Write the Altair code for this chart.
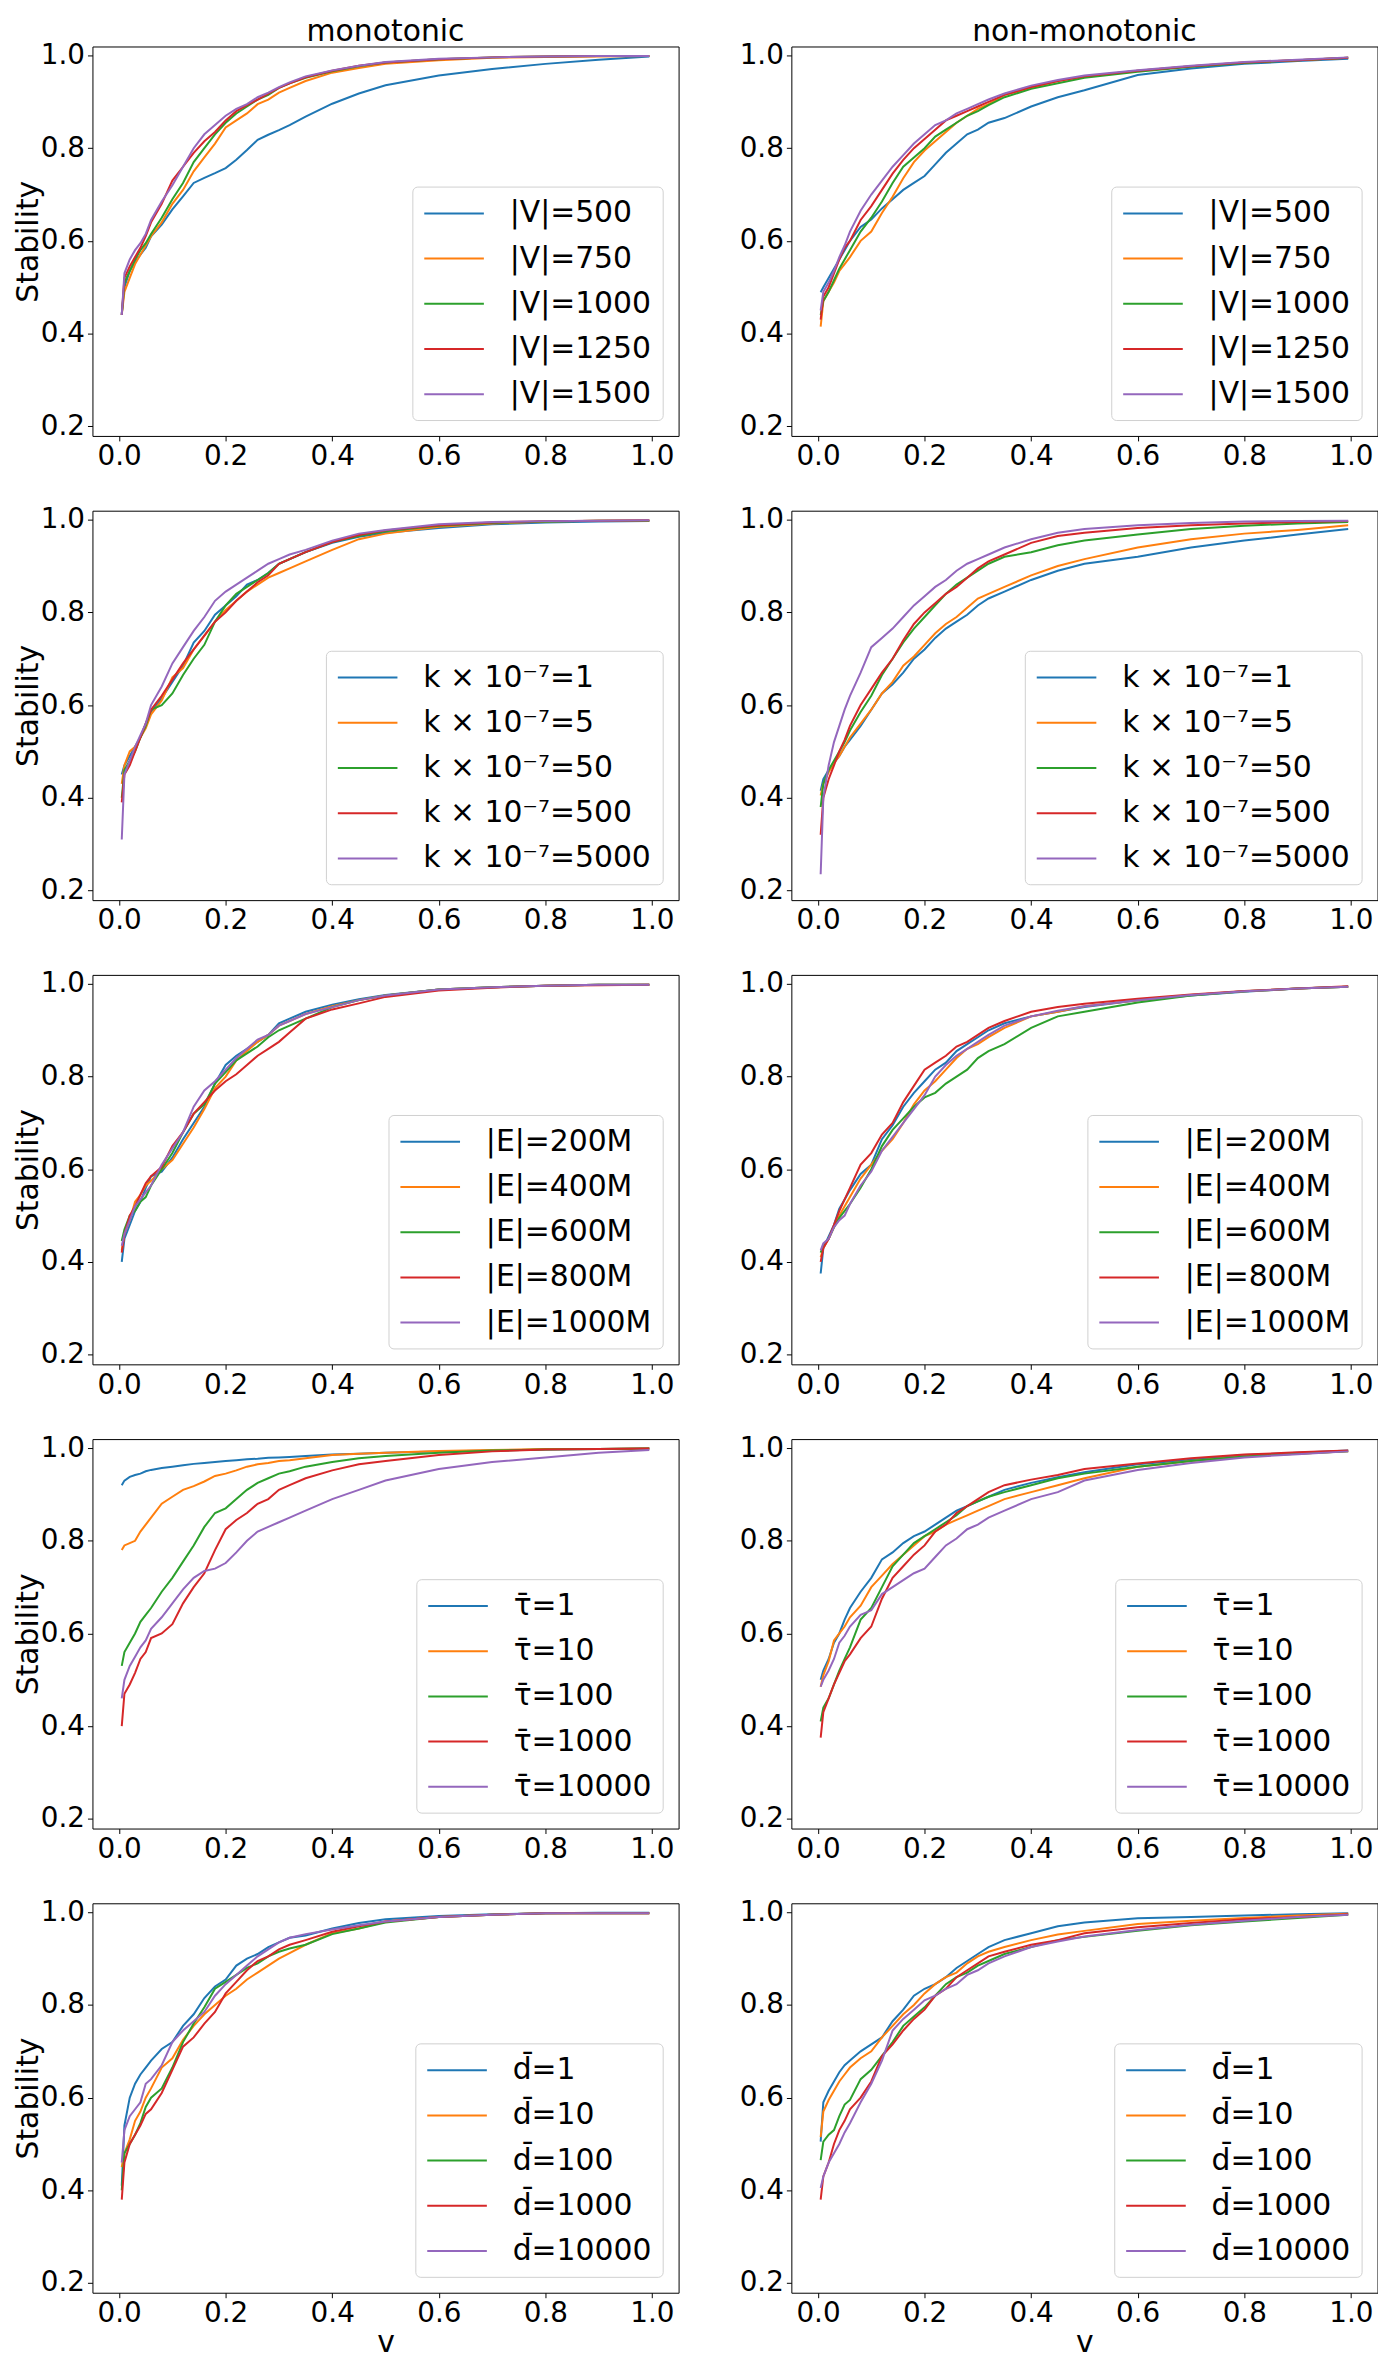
import altair as alt
import pandas as pd

# ---------------- data ----------------
X = [0.005, 0.01, 0.02, 0.03, 0.04, 0.05, 0.06, 0.08, 0.10, 0.12, 0.14, 0.16, 0.18, 0.20,
     0.22, 0.24, 0.26, 0.28, 0.30, 0.32, 0.35, 0.40, 0.45, 0.50, 0.60, 0.70, 0.80, 0.90, 0.995]

X_TICKS = [0.0, 0.2, 0.4, 0.6, 0.8, 1.0]
Y_TICKS = [0.2, 0.4, 0.6, 0.8, 1.0]
COLUMN_TITLES = ["monotonic", "non-monotonic"]
TAB10 = ["#1f77b4", "#ff7f0e", "#2ca02c", "#d62728", "#9467bd"]

V_LABELS = ["|V|=500", "|V|=750", "|V|=1000", "|V|=1250", "|V|=1500"]
K_VALUES = ["1", "5", "50", "500", "5000"]
K_LABELS = ["k \u00d7 10\u207b\u2077=" + v for v in K_VALUES]
E_LABELS = ["|E|=200M", "|E|=400M", "|E|=600M", "|E|=800M", "|E|=1000M"]
TAU_VALUES = ["1", "10", "100", "1000", "10000"]
TAU_LABELS = ["\u03c4\u0304=" + v for v in TAU_VALUES]
D_LABELS = ["d\u0304=" + v for v in TAU_VALUES]

mono_V = [
    [0.443, 0.50, 0.535, 0.555, 0.57, 0.585, 0.61, 0.635, 0.668, 0.696, 0.725, 0.736, 0.746, 0.757, 0.775, 0.796, 0.818, 0.829, 0.839, 0.85, 0.868, 0.896, 0.918, 0.936, 0.957, 0.971, 0.982, 0.991, 0.998],
    [0.44, 0.49, 0.52, 0.55, 0.57, 0.59, 0.61, 0.64, 0.68, 0.71, 0.75, 0.78, 0.81, 0.845, 0.86, 0.875, 0.895, 0.905, 0.92, 0.93, 0.945, 0.963, 0.973, 0.982, 0.99, 0.995, 0.997, 0.998, 0.999],
    [0.44, 0.51, 0.535, 0.56, 0.58, 0.595, 0.615, 0.65, 0.69, 0.725, 0.77, 0.80, 0.83, 0.855, 0.875, 0.89, 0.905, 0.915, 0.93, 0.94, 0.952, 0.966, 0.977, 0.985, 0.992, 0.996, 0.998, 0.999, 0.999],
    [0.44, 0.52, 0.545, 0.565, 0.585, 0.61, 0.64, 0.68, 0.73, 0.76, 0.79, 0.815, 0.835, 0.86, 0.88, 0.893, 0.905, 0.918, 0.93, 0.94, 0.953, 0.967, 0.978, 0.985, 0.992, 0.996, 0.998, 0.999, 0.999],
    [0.44, 0.53, 0.56, 0.58, 0.595, 0.615, 0.645, 0.685, 0.72, 0.76, 0.80, 0.83, 0.85, 0.87, 0.885, 0.895, 0.91, 0.92, 0.932, 0.942, 0.955, 0.968, 0.978, 0.986, 0.993, 0.996, 0.998, 0.999, 0.999],
]
nonmono_V = [
    [0.489, 0.50, 0.52, 0.54, 0.56, 0.58, 0.60, 0.63, 0.646, 0.67, 0.69, 0.71, 0.725, 0.74, 0.765, 0.79, 0.81, 0.83, 0.84, 0.855, 0.865, 0.89, 0.91, 0.925, 0.958, 0.972, 0.982, 0.988, 0.993],
    [0.415, 0.47, 0.49, 0.51, 0.535, 0.55, 0.565, 0.60, 0.62, 0.66, 0.695, 0.735, 0.77, 0.795, 0.815, 0.835, 0.855, 0.87, 0.885, 0.895, 0.915, 0.93, 0.945, 0.955, 0.967, 0.977, 0.985, 0.99, 0.995],
    [0.44, 0.47, 0.49, 0.515, 0.54, 0.56, 0.58, 0.62, 0.65, 0.685, 0.725, 0.76, 0.78, 0.80, 0.825, 0.84, 0.855, 0.87, 0.88, 0.893, 0.91, 0.928, 0.94, 0.952, 0.965, 0.976, 0.984, 0.99, 0.995],
    [0.43, 0.48, 0.50, 0.53, 0.56, 0.585, 0.60, 0.645, 0.675, 0.71, 0.745, 0.775, 0.80, 0.82, 0.84, 0.86, 0.87, 0.88, 0.89, 0.90, 0.915, 0.932, 0.945, 0.955, 0.967, 0.977, 0.985, 0.99, 0.995],
    [0.45, 0.49, 0.51, 0.535, 0.565, 0.59, 0.62, 0.665, 0.70, 0.73, 0.76, 0.785, 0.81, 0.83, 0.85, 0.86, 0.875, 0.885, 0.895, 0.905, 0.918, 0.935, 0.947, 0.957, 0.968, 0.978, 0.986, 0.991, 0.996],
]
mono_K = [
    [0.45, 0.47, 0.49, 0.51, 0.53, 0.56, 0.585, 0.615, 0.65, 0.685, 0.735, 0.76, 0.795, 0.815, 0.835, 0.86, 0.87, 0.885, 0.905, 0.915, 0.93, 0.95, 0.963, 0.972, 0.982, 0.99, 0.994, 0.996, 0.997],
    [0.43, 0.47, 0.50, 0.51, 0.53, 0.55, 0.58, 0.61, 0.66, 0.68, 0.72, 0.75, 0.78, 0.805, 0.825, 0.845, 0.86, 0.875, 0.885, 0.895, 0.91, 0.935, 0.958, 0.97, 0.985, 0.992, 0.996, 0.998, 0.998],
    [0.40, 0.46, 0.48, 0.50, 0.53, 0.555, 0.59, 0.60, 0.625, 0.665, 0.70, 0.73, 0.78, 0.815, 0.84, 0.855, 0.87, 0.885, 0.905, 0.915, 0.93, 0.952, 0.965, 0.975, 0.987, 0.993, 0.996, 0.998, 0.998],
    [0.39, 0.45, 0.47, 0.50, 0.53, 0.56, 0.59, 0.62, 0.655, 0.69, 0.72, 0.75, 0.78, 0.80, 0.825, 0.845, 0.865, 0.88, 0.905, 0.915, 0.93, 0.952, 0.967, 0.977, 0.988, 0.994, 0.997, 0.998, 0.999],
    [0.31, 0.45, 0.48, 0.51, 0.535, 0.56, 0.60, 0.64, 0.69, 0.725, 0.76, 0.79, 0.825, 0.845, 0.86, 0.875, 0.89, 0.905, 0.915, 0.925, 0.935, 0.955, 0.97, 0.978, 0.99, 0.995, 0.997, 0.998, 0.999],
]
nonmono_K = [
    [0.415, 0.44, 0.46, 0.475, 0.49, 0.51, 0.525, 0.555, 0.59, 0.625, 0.645, 0.67, 0.70, 0.72, 0.745, 0.765, 0.78, 0.795, 0.815, 0.83, 0.845, 0.87, 0.89, 0.905, 0.92, 0.94, 0.955, 0.968, 0.98],
    [0.405, 0.43, 0.455, 0.475, 0.49, 0.51, 0.53, 0.56, 0.59, 0.625, 0.65, 0.685, 0.705, 0.73, 0.755, 0.775, 0.79, 0.81, 0.83, 0.84, 0.855, 0.88, 0.90, 0.915, 0.94, 0.958, 0.97, 0.978, 0.988],
    [0.38, 0.43, 0.46, 0.48, 0.50, 0.52, 0.545, 0.585, 0.62, 0.665, 0.70, 0.735, 0.765, 0.79, 0.815, 0.84, 0.86, 0.875, 0.89, 0.905, 0.92, 0.93, 0.945, 0.955, 0.968, 0.98, 0.987, 0.992, 0.995],
    [0.32, 0.40, 0.44, 0.47, 0.50, 0.525, 0.555, 0.60, 0.635, 0.67, 0.70, 0.74, 0.775, 0.80, 0.82, 0.84, 0.855, 0.875, 0.895, 0.91, 0.925, 0.95, 0.965, 0.972, 0.982, 0.988, 0.992, 0.995, 0.997],
    [0.235, 0.40, 0.47, 0.52, 0.555, 0.59, 0.62, 0.67, 0.725, 0.745, 0.765, 0.79, 0.815, 0.835, 0.855, 0.87, 0.89, 0.905, 0.915, 0.925, 0.94, 0.958, 0.972, 0.98, 0.988, 0.993, 0.996, 0.997, 0.998],
]
mono_E = [
    [0.40, 0.45, 0.48, 0.51, 0.53, 0.56, 0.585, 0.595, 0.625, 0.665, 0.70, 0.735, 0.785, 0.825, 0.845, 0.86, 0.875, 0.89, 0.915, 0.925, 0.94, 0.955, 0.967, 0.976, 0.988, 0.993, 0.996, 0.998, 0.998],
    [0.425, 0.46, 0.49, 0.53, 0.545, 0.565, 0.575, 0.60, 0.62, 0.655, 0.69, 0.73, 0.775, 0.80, 0.835, 0.855, 0.875, 0.89, 0.91, 0.92, 0.935, 0.952, 0.965, 0.975, 0.988, 0.993, 0.996, 0.998, 0.998],
    [0.445, 0.47, 0.50, 0.51, 0.53, 0.54, 0.565, 0.60, 0.635, 0.68, 0.72, 0.74, 0.785, 0.81, 0.835, 0.85, 0.865, 0.885, 0.90, 0.91, 0.925, 0.95, 0.965, 0.975, 0.988, 0.993, 0.996, 0.998, 0.998],
    [0.42, 0.46, 0.50, 0.52, 0.545, 0.57, 0.585, 0.605, 0.65, 0.68, 0.72, 0.745, 0.77, 0.79, 0.805, 0.825, 0.845, 0.86, 0.875, 0.895, 0.925, 0.945, 0.958, 0.972, 0.986, 0.992, 0.996, 0.997, 0.998],
    [0.435, 0.46, 0.49, 0.52, 0.535, 0.55, 0.565, 0.61, 0.645, 0.68, 0.735, 0.77, 0.79, 0.815, 0.84, 0.86, 0.88, 0.89, 0.91, 0.92, 0.935, 0.95, 0.965, 0.975, 0.988, 0.993, 0.996, 0.998, 0.998],
]
nonmono_E = [
    [0.375, 0.43, 0.455, 0.48, 0.515, 0.535, 0.555, 0.59, 0.61, 0.665, 0.695, 0.735, 0.765, 0.79, 0.815, 0.83, 0.855, 0.87, 0.885, 0.90, 0.915, 0.93, 0.94, 0.95, 0.965, 0.975, 0.983, 0.99, 0.994],
    [0.41, 0.43, 0.45, 0.475, 0.50, 0.52, 0.54, 0.58, 0.61, 0.64, 0.665, 0.70, 0.74, 0.77, 0.79, 0.815, 0.84, 0.86, 0.87, 0.885, 0.905, 0.93, 0.94, 0.952, 0.965, 0.976, 0.984, 0.99, 0.994],
    [0.42, 0.435, 0.45, 0.475, 0.495, 0.51, 0.525, 0.56, 0.60, 0.65, 0.685, 0.71, 0.735, 0.755, 0.765, 0.785, 0.80, 0.815, 0.84, 0.855, 0.87, 0.905, 0.93, 0.94, 0.96, 0.975, 0.984, 0.99, 0.994],
    [0.40, 0.43, 0.45, 0.48, 0.51, 0.535, 0.56, 0.61, 0.635, 0.675, 0.70, 0.745, 0.78, 0.815, 0.83, 0.845, 0.865, 0.875, 0.89, 0.905, 0.92, 0.94, 0.95, 0.957, 0.968, 0.977, 0.985, 0.99, 0.995],
    [0.425, 0.44, 0.45, 0.475, 0.49, 0.50, 0.525, 0.565, 0.595, 0.64, 0.67, 0.70, 0.73, 0.76, 0.80, 0.825, 0.845, 0.86, 0.875, 0.89, 0.91, 0.93, 0.942, 0.952, 0.965, 0.976, 0.984, 0.99, 0.994],
]
mono_T = [
    [0.92, 0.93, 0.938, 0.942, 0.945, 0.95, 0.953, 0.957, 0.96, 0.963, 0.966, 0.968, 0.97, 0.972, 0.974, 0.976, 0.977, 0.979, 0.98, 0.981, 0.983, 0.986, 0.988, 0.99, 0.993, 0.995, 0.997, 0.998, 0.999],
    [0.78, 0.79, 0.795, 0.80, 0.82, 0.835, 0.85, 0.88, 0.895, 0.91, 0.918, 0.928, 0.94, 0.945, 0.952, 0.96, 0.965, 0.968, 0.972, 0.974, 0.978, 0.985, 0.988, 0.99, 0.994, 0.996, 0.998, 0.998, 0.999],
    [0.53, 0.56, 0.58, 0.60, 0.625, 0.64, 0.655, 0.69, 0.72, 0.755, 0.79, 0.83, 0.86, 0.87, 0.89, 0.91, 0.925, 0.935, 0.945, 0.95, 0.96, 0.97, 0.978, 0.983, 0.99, 0.995, 0.997, 0.998, 0.999],
    [0.40, 0.47, 0.49, 0.515, 0.545, 0.56, 0.59, 0.60, 0.62, 0.665, 0.70, 0.73, 0.78, 0.825, 0.845, 0.86, 0.88, 0.89, 0.91, 0.92, 0.935, 0.952, 0.965, 0.972, 0.985, 0.993, 0.997, 0.998, 0.999],
    [0.46, 0.50, 0.53, 0.55, 0.57, 0.585, 0.61, 0.635, 0.665, 0.695, 0.72, 0.735, 0.74, 0.752, 0.775, 0.80, 0.82, 0.83, 0.84, 0.85, 0.865, 0.89, 0.91, 0.93, 0.955, 0.97, 0.98, 0.99, 0.996],
]
nonmono_T = [
    [0.50, 0.52, 0.545, 0.58, 0.60, 0.63, 0.655, 0.69, 0.72, 0.76, 0.775, 0.795, 0.81, 0.82, 0.835, 0.85, 0.865, 0.875, 0.885, 0.895, 0.91, 0.925, 0.937, 0.948, 0.965, 0.975, 0.985, 0.99, 0.995],
    [0.485, 0.51, 0.54, 0.585, 0.60, 0.615, 0.635, 0.66, 0.70, 0.725, 0.75, 0.77, 0.79, 0.81, 0.82, 0.835, 0.845, 0.855, 0.865, 0.875, 0.89, 0.905, 0.92, 0.935, 0.96, 0.972, 0.982, 0.988, 0.993],
    [0.41, 0.44, 0.46, 0.49, 0.52, 0.545, 0.57, 0.63, 0.655, 0.70, 0.745, 0.77, 0.795, 0.81, 0.825, 0.84, 0.855, 0.875, 0.885, 0.895, 0.905, 0.92, 0.935, 0.945, 0.96, 0.972, 0.982, 0.988, 0.993],
    [0.375, 0.43, 0.46, 0.49, 0.515, 0.54, 0.555, 0.59, 0.615, 0.675, 0.72, 0.745, 0.77, 0.79, 0.82, 0.835, 0.86, 0.875, 0.89, 0.905, 0.92, 0.932, 0.942, 0.955, 0.967, 0.978, 0.986, 0.991, 0.995],
    [0.485, 0.50, 0.52, 0.545, 0.58, 0.595, 0.615, 0.64, 0.65, 0.685, 0.70, 0.715, 0.73, 0.74, 0.765, 0.79, 0.805, 0.825, 0.835, 0.85, 0.865, 0.89, 0.905, 0.93, 0.953, 0.968, 0.98, 0.987, 0.993],
]
mono_D = [
    [0.41, 0.54, 0.60, 0.63, 0.65, 0.665, 0.68, 0.705, 0.72, 0.755, 0.78, 0.815, 0.84, 0.855, 0.885, 0.90, 0.91, 0.925, 0.935, 0.945, 0.95, 0.965, 0.977, 0.985, 0.992, 0.996, 0.998, 0.999, 0.999],
    [0.45, 0.48, 0.51, 0.55, 0.57, 0.60, 0.62, 0.665, 0.685, 0.725, 0.755, 0.78, 0.80, 0.82, 0.835, 0.855, 0.87, 0.885, 0.90, 0.912, 0.93, 0.955, 0.965, 0.98, 0.99, 0.995, 0.998, 0.998, 0.998],
    [0.40, 0.48, 0.50, 0.52, 0.545, 0.58, 0.60, 0.62, 0.665, 0.72, 0.76, 0.795, 0.835, 0.85, 0.865, 0.88, 0.89, 0.905, 0.915, 0.922, 0.93, 0.953, 0.965, 0.978, 0.99, 0.995, 0.998, 0.998, 0.998],
    [0.38, 0.46, 0.50, 0.52, 0.54, 0.565, 0.575, 0.61, 0.66, 0.71, 0.73, 0.76, 0.785, 0.825, 0.85, 0.875, 0.895, 0.905, 0.92, 0.93, 0.94, 0.958, 0.97, 0.98, 0.99, 0.995, 0.998, 0.998, 0.998],
    [0.46, 0.53, 0.56, 0.575, 0.59, 0.63, 0.64, 0.67, 0.72, 0.745, 0.765, 0.785, 0.82, 0.845, 0.865, 0.885, 0.905, 0.92, 0.935, 0.945, 0.953, 0.963, 0.972, 0.98, 0.99, 0.995, 0.998, 0.998, 0.998],
]
nonmono_D = [
    [0.505, 0.59, 0.615, 0.635, 0.655, 0.67, 0.68, 0.70, 0.715, 0.73, 0.765, 0.79, 0.82, 0.835, 0.845, 0.86, 0.88, 0.895, 0.91, 0.925, 0.94, 0.955, 0.97, 0.978, 0.987, 0.99, 0.993, 0.996, 0.998],
    [0.515, 0.57, 0.595, 0.615, 0.635, 0.65, 0.665, 0.685, 0.70, 0.73, 0.755, 0.78, 0.80, 0.825, 0.845, 0.86, 0.87, 0.89, 0.905, 0.915, 0.925, 0.94, 0.952, 0.96, 0.975, 0.982, 0.988, 0.993, 0.997],
    [0.465, 0.505, 0.52, 0.53, 0.56, 0.585, 0.595, 0.64, 0.66, 0.69, 0.72, 0.755, 0.775, 0.795, 0.82, 0.845, 0.86, 0.87, 0.885, 0.895, 0.91, 0.925, 0.94, 0.947, 0.96, 0.972, 0.98, 0.988, 0.995],
    [0.38, 0.43, 0.46, 0.50, 0.53, 0.55, 0.575, 0.60, 0.635, 0.69, 0.715, 0.745, 0.77, 0.79, 0.82, 0.835, 0.86, 0.875, 0.89, 0.905, 0.915, 0.93, 0.94, 0.955, 0.968, 0.977, 0.985, 0.99, 0.996],
    [0.405, 0.43, 0.46, 0.48, 0.50, 0.525, 0.545, 0.59, 0.63, 0.68, 0.745, 0.77, 0.79, 0.81, 0.82, 0.835, 0.845, 0.865, 0.875, 0.89, 0.905, 0.925, 0.937, 0.948, 0.962, 0.973, 0.982, 0.99, 0.995],
]

PANELS = [
    (mono_V, V_LABELS), (nonmono_V, V_LABELS),
    (mono_K, K_LABELS), (nonmono_K, K_LABELS),
    (mono_E, E_LABELS), (nonmono_E, E_LABELS),
    (mono_T, TAU_LABELS), (nonmono_T, TAU_LABELS),
    (mono_D, D_LABELS), (nonmono_D, D_LABELS),
]

FONT = "DejaVu Sans"
TICK_FS = 28
LEGEND_FS = 30
TITLE_FS = 30
PLOT_W = 590
PLOT_H = 392


def make_panel(series, labels, idx):
    row, col = divmod(idx, 2)
    recs = []
    for lab, ys in zip(labels, series):
        for xv, yv in zip(X, ys):
            recs.append({"v": xv, "Stability": yv, "series": lab})
    df = pd.DataFrame(recs)

    x_kwargs = dict(values=X_TICKS, format=".1f", labelPadding=2, titlePadding=0)
    x_kwargs["title"] = "v" if row == 4 else None
    y_kwargs = dict(values=Y_TICKS, format=".1f", labelPadding=3, titlePadding=-3)
    y_kwargs["title"] = "Stability" if col == 0 else None

    legend = alt.Legend(
        title=None,
        orient="bottom-right",
        offset=16,
        padding=11,
        symbolType="M-1,0H3",
        symbolSize=900,
        symbolStrokeWidth=2,
        labelOffset=55,
        labelFontSize=LEGEND_FS,
        labelFont=FONT,
        labelColor="black",
        labelLimit=600,
        rowPadding=14.5,
        strokeColor="#d0d0d0",
        fillColor="white",
        cornerRadius=5,
    )

    lines = alt.Chart(df).mark_line(strokeWidth=2).encode(
        x=alt.X("v:Q", scale=alt.Scale(domain=[-0.05, 1.05], nice=False, zero=False),
                axis=alt.Axis(**x_kwargs)),
        y=alt.Y("Stability:Q", scale=alt.Scale(domain=[0.179, 1.0195], nice=False, zero=False),
                axis=alt.Axis(**y_kwargs)),
        color=alt.Color("series:N", scale=alt.Scale(domain=labels, range=TAB10),
                        sort=labels, legend=legend),
    )
    if row == 0:
        head = alt.Chart(pd.DataFrame({"t": [COLUMN_TITLES[col]]})).mark_text(
            fontSize=TITLE_FS, font=FONT, color="black", align="center", baseline="alphabetic"
        ).encode(text="t:N", x=alt.value(PLOT_W / 2), y=alt.value(-6))
        return alt.layer(lines, head).properties(width=PLOT_W, height=PLOT_H)
    return lines.properties(width=PLOT_W, height=PLOT_H)


panels = [make_panel(s, l, i) for i, (s, l) in enumerate(PANELS)]

chart = alt.concat(*panels, columns=2).properties(
    spacing={"row": 75.25, "column": 113.5},
    bounds="flush",
    padding={"left": 4, "top": 0, "right": 0, "bottom": 0},
).resolve_scale(color="independent", x="independent", y="independent"
).configure(font=FONT, background="white"
).configure_view(stroke="black", strokeWidth=1
).configure_axis(
    domain=False, grid=False, tickColor="black", tickSize=5, tickWidth=1,
    labelFontSize=TICK_FS, labelFont=FONT, labelColor="black", labelFlush=False,
    titleFontSize=TITLE_FS, titleFont=FONT, titleFontWeight="normal", titleColor="black",
)

chart.save("out.html", embed_options={"renderer": "svg", "actions": False})
